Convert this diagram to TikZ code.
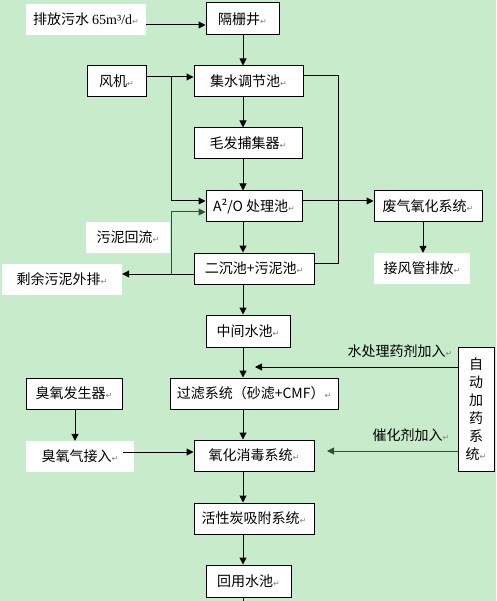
\documentclass[tikz,border=0pt]{standalone}
\usepackage{fontspec}
\setmainfont{Noto Sans CJK SC}
\newfontfamily\dvsfont{DejaVu Sans}
\newfontfamily\timesfont{Liberation Serif}
\usetikzlibrary{arrows.meta}
\definecolor{BgGreen}{RGB}{200,235,204}
\definecolor{DarkLine}{RGB}{55,75,60}
\newcommand{\retmark}{{\dvsfont\fontsize{8}{8}\selectfont\color{gray}↵}}

\begin{document}
\begin{tikzpicture}[x=1pt,y=-1pt,
    box/.style={draw=black,fill=white,line width=1pt,minimum height=31pt,inner sep=0pt,font=\fontsize{14}{15}\selectfont},
    tag/.style={fill=white,inner sep=0pt,minimum height=31pt,font=\fontsize{14}{15}\selectfont},
    flow/.style={line width=1pt,-{Triangle[length=7pt,width=7pt]}},
    pipe/.style={line width=1pt}]
                \fill[BgGreen] (0,0) rectangle (496,601);
                \useasboundingbox (0,0) rectangle (496,601);
                % boxes
                \node[tag,minimum width=120pt] (src) at (86,19.5) {排放污水 {\timesfont 65m³/d}\retmark};
                \node[box,minimum width=73pt,minimum height=32pt] (gs) at (242.5,19) {隔栅井\retmark};
                \node[box,minimum width=59pt] (fan) at (116.5,81.5) {风机\retmark};
                \node[box,minimum width=109pt] (jsc) at (248.5,81.5) {集水调节池\retmark};
                \node[box,minimum width=108pt] (mf) at (248,143.5) {毛发捕集器\retmark};
                \node[box,minimum width=96pt] (ao) at (254,206.5) {A²/O 处理池\retmark};
                \node[box,minimum width=108pt] (fq) at (428,206.5) {废气氧化系统\retmark};
                \node[tag,minimum width=96pt] (jf) at (422,268.5) {接风管排放\retmark};
                \node[tag,minimum width=84pt] (hl) at (128,237.5) {污泥回流\retmark};
                \node[box,minimum width=120pt] (ec) at (254,268.5) {二沉池+污泥池\retmark};
                \node[tag,minimum width=120pt] (sy) at (62,279.5) {剩余污泥外排\retmark};
                \node[box,minimum width=84pt,minimum height=32pt] (zj) at (248,331) {中间水池\retmark};
                \node[box,minimum width=36pt,minimum height=124pt,align=center,font=\fontsize{14}{18}\selectfont] (zd) at (476,409) {自\\动\\加\\药\\系\\统\retmark};
                \node[box,minimum width=168pt] (gl) at (254,393.5) {过滤系统（砂滤+CMF）\retmark};
                \node[box,minimum width=96pt] (cy) at (74,393.5) {臭氧发生器\retmark};
                \node[tag,minimum width=108pt] (cq) at (80,456.5) {臭氧气接入\retmark};
                \node[box,minimum width=120pt] (yh) at (254,455.5) {氧化消毒系统\retmark};
                \node[box,minimum width=120pt] (hx) at (254,518.5) {活性炭吸附系统\retmark};
                \node[box,minimum width=85pt,minimum height=32pt] (hy) at (248.5,581) {回用水池\retmark};
                \node[font=\fontsize{14}{15}\selectfont] (yjlabel) at (400,351) {水处理药剂加入\retmark};
                \node[font=\fontsize{14}{15}\selectfont] (chlabel) at (411,435) {催化剂加入\retmark};

                % connectors
                \coordinate (mainx) at (243,0);
                \coordinate (fanj) at (171,77);
                \coordinate (retj) at (171,274);
                \coordinate (bypass) at (338,263);
                \coordinate (dose1) at (255,367);
                \coordinate (dose2) at (327,451);
                \coordinate (o3start) at (123,452);
                \coordinate (outlet) at (243,601);
                \draw[flow] (src.east |- 0,25) -- (gs.west |- 0,25);
                \draw[flow] (gs.south -| mainx) -- (jsc.north -| mainx);
                \draw[flow] (fan.east |- fanj) -- (jsc.west |- fanj);
                \draw[flow] (fanj) |- (ao.west |- 0,201);
                \draw[flow] (jsc.south -| mainx) -- (mf.north -| mainx);
                \draw[flow] (mf.south -| mainx) -- (ao.north -| mainx);
                \draw[pipe] (jsc.east |- 0,76) -| (bypass) -- (ec.east |- bypass);
                \draw[flow] (ao.east |- 0,201) -- (fq.west |- 0,201);
                \draw[flow] (fq.south -| 423,0) -- (jf.north -| 423,0);
                \draw[flow] (ao.south -| mainx) -- (ec.north -| mainx);
                \draw[flow] (ec.west |- retj) -- (sy.east |- retj);
                \draw[flow,DarkLine] (retj) |- (ao.west |- 0,212);
                \draw[flow] (ec.south -| mainx) -- (zj.north -| mainx);
                \draw[flow] (zd.west |- dose1) -- (dose1);
                \draw[flow] (zj.south -| mainx) -- (gl.north -| mainx);
                \draw[flow] (cy.south -| 75,0) -- (cq.north -| 75,0);
                \draw[flow] (o3start) -- (yh.west |- o3start);
                \draw[flow] (gl.south -| mainx) -- (yh.north -| mainx);
                \draw[flow,DarkLine] (zd.west |- dose2) -- (dose2);
                \draw[flow] (yh.south -| mainx) -- (hx.north -| mainx);
                \draw[flow] (hx.south -| mainx) -- (hy.north -| mainx);
                \draw[pipe] (hy.south -| mainx) -- (outlet);
\end{tikzpicture}
\end{document}
